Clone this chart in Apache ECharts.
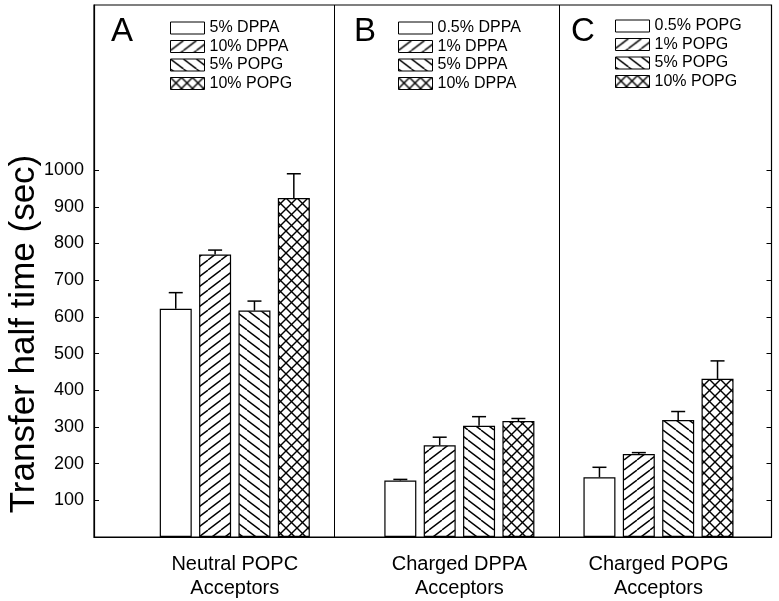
<!DOCTYPE html>
<html><head><meta charset="utf-8">
<script src="https://cdn.jsdelivr.net/npm/echarts@6/dist/echarts.min.js"></script>
<style>html,body{margin:0;padding:0;background:#fff}#c{width:779px;height:601px}</style>
</head><body><div id="c"></div>
<script>
// ---- data ----
const panels = ['A', 'B', 'C'];
const groupLabels = ['Neutral POPC\nAcceptors', 'Charged DPPA\nAcceptors', 'Charged POPG\nAcceptors'];
const namesA = ['5% DPPA', '10% DPPA', '5% POPG', '10% POPG'];
const namesB = ['0.5% DPPA', '1% DPPA', '5% DPPA', '10% DPPA'];
const namesC = ['0.5% POPG', '1% POPG', '5% POPG', '10% POPG'];
const valuesA = [622, 770, 617, 924];
const errorsA = [44, 12, 26, 66];
const valuesB = [154, 250, 303, 316];
const errorsB = [3, 22, 25, 7];
const valuesC = [163, 226, 319, 431];
const errorsC = [27, 4, 23, 49];
const yTicks = [100, 200, 300, 400, 500, 600, 700, 800, 900, 1000];
const yName = 'Transfer half time (sec)';

// ---- layout (axis units on a 0..100 x scale) ----
const groupPos = [20.78, 53.93, 83.32];
const dividerPos = [35.5, 68.63];
const BAR_W = 32, GAP = 0.23;
const FONT = "'Liberation Sans', Arial, Helvetica, sans-serif";

function pattern(kind) {
  const w = kind === 'x' ? 11 : 13, h = kind === 'x' ? 11 : 10;
  const c = document.createElement('canvas'); c.width = w; c.height = h;
  const g = c.getContext('2d');
  g.fillStyle = '#fff'; g.fillRect(0, 0, w, h);
  g.strokeStyle = '#000'; g.lineWidth = 1.4;
  const dirs = kind === 'x' ? ['/', '\\'] : [kind];
  dirs.forEach(d => {
    [-w, 0, w].forEach(dx => {
      g.beginPath();
      if (d === '/') { g.moveTo(dx, h); g.lineTo(dx + w, 0); }
      else { g.moveTo(dx, 0); g.lineTo(dx + w, h); }
      g.stroke();
    });
  });
  return { image: c, repeat: 'repeat' };
}
const fills = ['#ffffff', pattern('/'), pattern('\\'), pattern('x')];

const names = [namesA, namesB, namesC];
const values = [valuesA, valuesB, valuesC];
const errors = [errorsA, errorsB, errorsC];

const series = [];
panels.forEach((p, g) => {
  names[g].forEach((n, i) => {
    series.push({
      type: 'bar', name: p + '|' + n, stack: 'slot' + i,
      barWidth: BAR_W, barGap: (GAP * 100) + '%',
      data: [[groupPos[g], values[g][i]]],
      itemStyle: { color: fills[i], borderColor: '#000', borderWidth: 1.2 },
      emphasis: { disabled: true }, silent: true
    });
  });
});
// panel dividers, drawn through the x axis scale
series.push({
  type: 'line', name: 'dividers', data: [], silent: true,
  markLine: {
    silent: true, symbol: 'none', animation: false,
    label: { show: false },
    lineStyle: { color: '#000', width: 1, type: 'solid' },
    emphasis: { disabled: true },
    data: dividerPos.map(x => ({ xAxis: x }))
  }
});
const errData = [];
panels.forEach((p, g) => values[g].forEach((v, i) => errData.push([groupPos[g], v, errors[g][i], i])));
series.push({
  type: 'custom', silent: true, z: 5, data: errData,
  renderItem: function (params, api) {
    const x = api.value(0), v = api.value(1), e = api.value(2), slot = api.value(3);
    const p0 = api.coord([x, v]), p1 = api.coord([x, v + e]);
    const cx = p0[0] + (slot - 1.5) * BAR_W * (1 + GAP);
    const st = { stroke: '#000', lineWidth: 1.5 };
    return { type: 'group', children: [
      { type: 'line', shape: { x1: cx, y1: p0[1], x2: cx, y2: p1[1] }, style: st },
      { type: 'line', shape: { x1: cx - 7, y1: p1[1], x2: cx + 7, y2: p1[1] }, style: st }
    ] };
  }
});

const legendLeft = [170, 398, 615];
const legendTop = [20, 20, 18];
const letterLeft = [111, 354, 571];

const chart = echarts.init(document.getElementById('c'), null, { renderer: 'canvas' });
chart.setOption({
  animation: false,
  backgroundColor: '#fff',
  title: panels.map((p, g) => ({
    text: p, left: letterLeft[g], top: 15.5, padding: 0,
    textStyle: { fontSize: 33, fontWeight: 'normal', color: '#000', fontFamily: FONT }
  })),
  legend: panels.map((p, g) => ({
    data: names[g].map(n => p + '|' + n),
    formatter: s => s.split('|')[1],
    orient: 'vertical', left: legendLeft[g], top: legendTop[g],
    icon: 'rect', itemWidth: 34, itemHeight: 12, itemGap: 2.5, padding: 0,
    selectedMode: false,
    textStyle: { fontSize: 16, color: '#000', fontFamily: FONT },
    itemStyle: { borderColor: '#000', borderWidth: 1 }
  })),
  grid: { left: 94, right: 7.5, top: 5, bottom: 64, outerBoundsMode: 'none', containLabel: false,
          show: true, borderColor: '#000', borderWidth: 1.2, backgroundColor: 'transparent' },
  xAxis: {
    type: 'value', min: 0, max: 100,
    axisLine: { show: true, lineStyle: { color: '#000', width: 1.2 } },
    axisTick: { show: false }, splitLine: { show: false },
    axisLabel: {
      customValues: groupPos, margin: 15, color: '#000', fontSize: 20, lineHeight: 24, fontFamily: FONT,
      formatter: function (v) {
        let best = 0;
        groupPos.forEach((gp, i) => { if (Math.abs(gp - v) < Math.abs(groupPos[best] - v)) best = i; });
        return Math.abs(groupPos[best] - v) < 0.5 ? groupLabels[best] : '';
      }
    }
  },
  yAxis: [{
    type: 'value', min: 0, max: 1450, interval: 100,
    name: yName, nameLocation: 'middle', nameGap: 52, nameMoveOverlap: false,
    nameTextStyle: { fontSize: 35, color: '#000', fontFamily: FONT, padding: [0, 126, 0, 0] },
    axisLine: { show: true, lineStyle: { color: '#000', width: 1.2 } },
    axisTick: { show: true, inside: true, length: 5, customValues: yTicks, lineStyle: { color: '#000' } },
    splitLine: { show: false },
    axisLabel: {
      customValues: yTicks, margin: 10, color: '#000', fontSize: 18, fontFamily: FONT,
      formatter: v => (v >= 100 && v <= 1000) ? String(v) : ''
    }
  }, {
    type: 'value', min: 0, max: 1450, interval: 100, position: 'right',
    axisLine: { show: false },
    axisTick: { show: true, inside: true, length: 5, customValues: yTicks, lineStyle: { color: '#000' } },
    axisLabel: { show: false }, splitLine: { show: false }
  }],
  series: series
});
</script></body></html>
